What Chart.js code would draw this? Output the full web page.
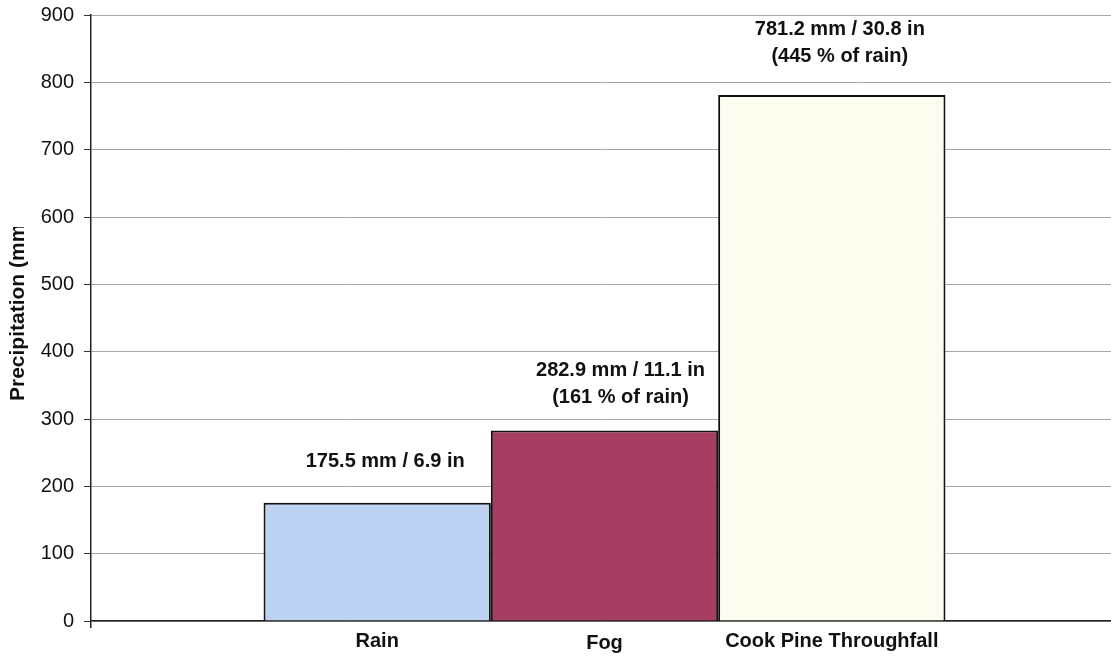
<!DOCTYPE html>
<html>
<head>
<meta charset="utf-8">
<script src="https://cdn.jsdelivr.net/npm/chart.js@4/dist/chart.umd.min.js"></script>
<style>
  html, body { margin: 0; padding: 0; background: #ffffff; overflow: hidden; }
  #wrap { width: 1118px; height: 656px; position: relative; }
</style>
</head>
<body>
<div id="wrap"><canvas id="c"></canvas></div>
<script>
const categories = ['Rain', 'Fog', 'Cook Pine Throughfall'];
const values = [175.5, 282.9, 781.2];
const valueLabels = [
  ['175.5 mm / 6.9 in'],
  ['282.9 mm / 11.1 in', '(161 % of rain)'],
  ['781.2 mm / 30.8 in', '(445 % of rain)']
];
const yAxisTitle = 'Precipitation (mm)';
const yMin = 0, yMax = 900, yStep = 100;

const barColors = ['#bcd2f0', '#a63e63', '#fdfdef'];
const FONT = '"Liberation Sans", Arial, Helvetica, sans-serif';

const datasets = categories.map((name, i) => ({
  label: name,
  data: [values[i]],
  backgroundColor: barColors[i],
  borderColor: '#111111',
  borderWidth: 2,
  barPercentage: 1.0,
  categoryPercentage: 0.664
}));

const annotate = {
  id: 'annotate',
  afterDatasetsDraw(chart) {
    const ctx = chart.ctx;
    ctx.save();
    ctx.fillStyle = '#111111';
    ctx.textAlign = 'center';
    ctx.textBaseline = 'middle';
    ctx.font = 'bold 20px ' + FONT;
    const nudge = [[8, -41], [16, -33], [8, -39]];
    chart.data.datasets.forEach((ds, i) => {
      const bar = chart.getDatasetMeta(i).data[0];
      const lines = valueLabels[i];
      const n = lines.length;
      lines.forEach((t, k) => {
        const y = bar.y + nudge[i][1] - (n - 1 - k) * 27;
        ctx.fillText(t, bar.x + nudge[i][0], y);
      });
      ctx.fillText(categories[i], bar.x, chart.chartArea.bottom + 20 + (i === 1 ? 2 : 0));
    });
    ctx.restore();
  },
  afterDraw(chart) {
    const ctx = chart.ctx;
    ctx.save();
    ctx.beginPath();
    ctx.rect(0, 227, 60, 400);
    ctx.clip();
    ctx.translate(18, 401);
    ctx.rotate(-Math.PI / 2);
    ctx.fillStyle = '#111111';
    ctx.font = 'bold 21px ' + FONT;
    ctx.textAlign = 'left';
    ctx.textBaseline = 'middle';
    ctx.fillText(yAxisTitle, 0, 0);
    ctx.restore();
  }
};

new Chart(document.getElementById('c'), {
  type: 'bar',
  data: { labels: [''], datasets },
  options: {
    responsive: true,
    maintainAspectRatio: false,
    animation: false,
    layout: { padding: { top: 15, left: 0, right: 0, bottom: 0 } },
    plugins: { legend: { display: false }, tooltip: { enabled: false } },
    scales: {
      x: {
        offset: true,
        grid: { display: true, drawOnChartArea: false, offset: true, tickLength: 7, color: '#222', tickColor: '#222', lineWidth: 1.5 },
        border: { display: true, color: '#222', width: 1.5 },
        ticks: { display: false },
        afterFit(s) { s.height = 35; }
      },
      y: {
        min: yMin, max: yMax,
        ticks: { stepSize: yStep, color: '#111111', font: { family: FONT, size: 20 }, padding: 10 },
        grid: { color: '#a6a6a6', lineWidth: 1, tickLength: 7, tickColor: '#333' },
        border: { display: true, color: '#222', width: 1.5 },
        afterFit(s) { s.width = 91; s.paddingTop = 0; s.paddingBottom = 0; }
      }
    }
  },
  plugins: [annotate]
});
</script>
</body>
</html>
